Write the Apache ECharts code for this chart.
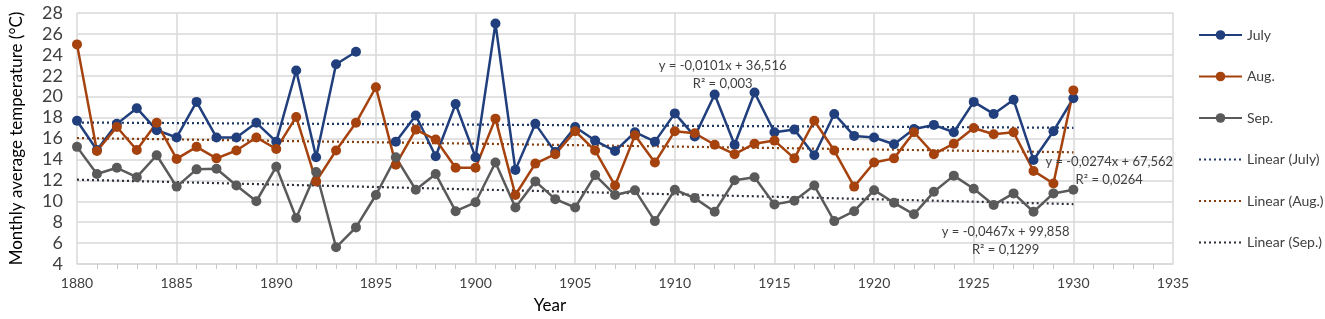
<!DOCTYPE html>
<html>
<head>
<meta charset="utf-8">
<script src="https://cdn.jsdelivr.net/npm/echarts@6/dist/echarts.min.js"></script>
<style>
  html, body { margin: 0; padding: 0; background: #fff; }
  #chart { width: 1325px; height: 319px; }
</style>
</head>
<body>
<div id="chart"></div>
<script>
const years = []
for (let y = 1880; y <= 1930; y++) years.push(y)

// monthly averages, null = missing year
const july = [17.7, 14.9, 17.4, 18.9, 16.8, 16.1, 19.5, 16.1, 16.1, 17.5,
  15.7, 22.5, 14.2, 23.1, 24.3, null, 15.7, 18.2, 14.3, 19.3,
  14.2, 27.0, 13.0, 17.4, 14.7, 17.1, 15.8, 14.8, 16.6, 15.7,
  18.4, 16.2, 20.2, 15.4, 20.4, 16.6, 16.85, 14.4, 18.35, 16.25,
  16.1, 15.45, 16.9, 17.3, 16.6, 19.5, 18.35, 19.7, 13.95, 16.7, 19.85]
const aug = [25.0, 14.8, 17.1, 14.9, 17.5, 14.05, 15.2, 14.1, 14.85, 16.1,
  15.0, 18.06, 11.9, 14.85, 17.5, 20.9, 13.5, 16.85, 15.9, 13.2,
  13.2, 17.9, 10.6, 13.6, 14.5, 16.7, 14.85, 11.5, 16.3, 13.7,
  16.7, 16.5, 15.4, 14.5, 15.5, 15.8, 14.1, 17.7, 14.85, 11.4,
  13.7, 14.1, 16.6, 14.5, 15.5, 17.0, 16.4, 16.6, 12.9, 11.7, 20.6]
const sep = [15.2, 12.6, 13.2, 12.3, 14.4, 11.4, 13.05, 13.1, 11.5, 10.0,
  13.3, 8.4, 12.8, 5.6, 7.5, 10.6, 14.2, 11.1, 12.6, 9.05,
  9.9, 13.7, 9.4, 11.9, 10.2, 9.4, 12.5, 10.6, 11.06, 8.1,
  11.1, 10.3, 9.0, 12.0, 12.3, 9.7, 10.05, 11.5, 8.1, 9.05,
  11.06, 9.85, 8.75, 10.9, 12.45, 11.2, 9.65, 10.75, 9.0, 10.75, 11.1]

// trend line coefficients as printed on the chart
const trendJuly = { slope: -0.0101, icpt: 36.516, r2: '0,003', eq: 'y = -0,0101x + 36,516' }
const trendAug = { slope: -0.0274, icpt: 67.562, r2: '0,0264', eq: 'y = -0,0274x + 67,562' }
const trendSep = { slope: -0.0467, icpt: 99.858, r2: '0,1299', eq: 'y = -0,0467x + 99,858' }

const colJuly = '#203f7c'
const colAug = '#a5420e'
const colSep = '#5a5a5a'

const textCol = '#404040'
const font = 'Lato'

function pairs(vals) {
  return years.map((y, i) => [y, vals[i] == null ? '-' : vals[i]])
}

function trendLine(t) {
  const x0 = years[0]
  const x1 = years[years.length - 1]
  return [[x0, t.slope * x0 + t.icpt], [x1, t.slope * x1 + t.icpt]]
}

function dataSeries(name, vals, color) {
  return {
    name,
    type: 'line',
    data: pairs(vals),
    symbol: 'circle',
    symbolSize: 10,
    connectNulls: false,
    itemStyle: { color },
    lineStyle: { color, width: 2.5 },
    z: 3,
  }
}

function trendSeries(name, t, color, at) {
  return {
    name,
    type: 'line',
    data: trendLine(t),
    symbol: 'none',
    silent: true,
    itemStyle: { color },
    lineStyle: { color, width: 2.2, type: [2, 3] },
    z: 2,
    markPoint: {
      symbol: 'circle',
      symbolSize: 0,
      data: [{ coord: at }],
      label: {
        show: true,
        position: 'inside',
        formatter: t.eq + '\nR² = ' + t.r2,
        color: textCol,
        fontFamily: font,
        fontSize: 13,
        lineHeight: 18,
        align: 'center',
      },
    },
  }
}

const chart = echarts.init(document.getElementById('chart'))

chart.setOption({
  animation: false,
  title: {
    text: 'Year',
    left: 545,
    top: 292,
    textAlign: 'center',
    textStyle: { color: '#000', fontFamily: font, fontSize: 17, fontWeight: 'normal' },
  },
  grid: { left: 74, right: 152, top: 13, bottom: 55 },
  legend: {
    orient: 'vertical',
    left: 1198,
    top: 28,
    padding: 0,
    itemWidth: 43,
    itemHeight: 12,
    itemGap: 27.5,
    textStyle: { color: textCol, fontFamily: font, fontSize: 14 },
    data: [
      'July', 'Aug.', 'Sep.',
      { name: 'Linear (July)', itemStyle: { opacity: 0 } },
      { name: 'Linear (Aug.)', itemStyle: { opacity: 0 } },
      { name: 'Linear (Sep.)', itemStyle: { opacity: 0 } },
    ],
  },
  xAxis: {
    type: 'value',
    min: 1880,
    max: 1935,
    interval: 5,
    axisLine: { show: true, lineStyle: { color: '#d9d9d9', width: 1.5 } },
    axisTick: { show: false },
    minorTick: { show: true, splitNumber: 5, length: 5, lineStyle: { color: '#c8c8c8' } },
    splitLine: { show: true, lineStyle: { color: '#d9d9d9', width: 1.5 } },
    axisLabel: { color: textCol, fontFamily: font, fontSize: 14, margin: 12, formatter: v => String(v) },
  },
  yAxis: {
    type: 'value',
    min: 4,
    max: 28,
    interval: 2,
    name: 'Monthly average temperature (°C)',
    nameLocation: 'middle',
    nameGap: 52,
    nameTextStyle: { color: '#000', fontFamily: font, fontSize: 17 },
    axisLine: { show: false },
    axisTick: { show: false },
    splitLine: { lineStyle: { color: '#d9d9d9', width: 1.5 } },
    axisLabel: { color: textCol, fontFamily: font, fontSize: 18, margin: 14 },
  },
  series: [
    dataSeries('July', july, colJuly),
    dataSeries('Aug.', aug, colAug),
    dataSeries('Sep.', sep, colSep),
    trendSeries('Linear (July)', trendJuly, '#1f3864', [1912.4, 22.1]),
    trendSeries('Linear (Aug.)', trendAug, '#843c0c', [1931.8, 12.95]),
    trendSeries('Linear (Sep.)', trendSep, '#2a2f3a', [1926.6, 6.2]),
  ],
})
</script>
</body>
</html>
